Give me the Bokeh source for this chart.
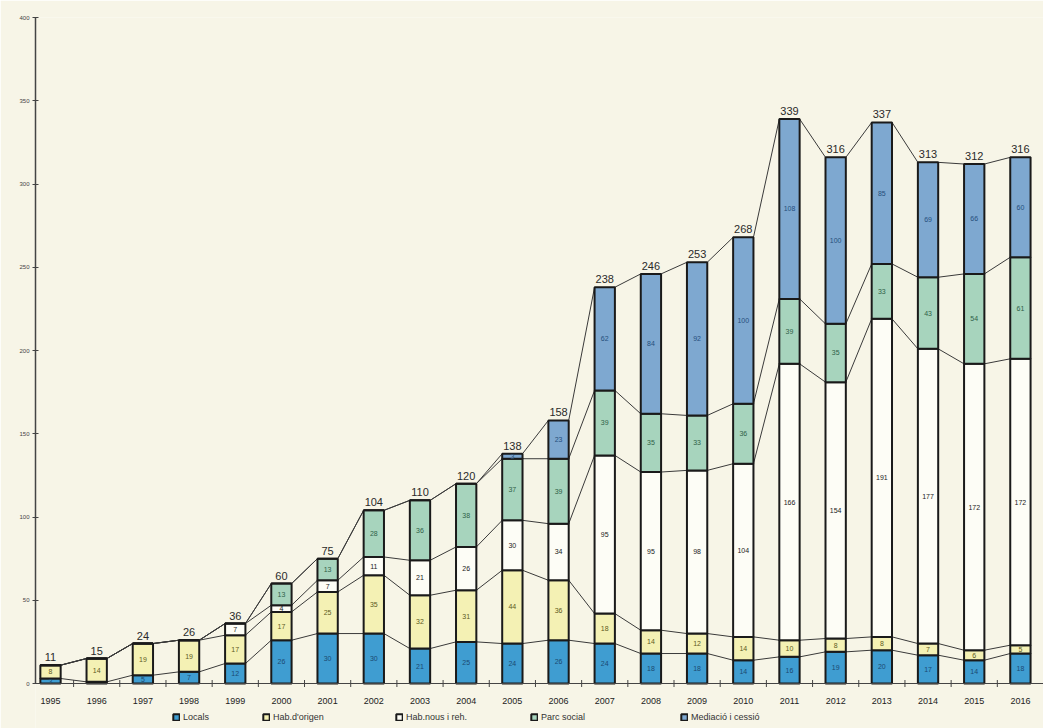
import math
from bokeh.plotting import figure
from bokeh.models import Range1d, FixedTicker, Legend, LegendItem, ColumnDataSource, Span
from bokeh.core.properties import value
from bokeh.embed import file_html
from bokeh.resources import INLINE

years = list(range(1995, 2017))
year_labels = [str(y) for y in years]
locals_ = [3, 1, 5, 7, 12, 26, 30, 30, 21, 25, 24, 26, 24, 18, 18, 14, 16, 19, 20, 17, 14, 18]
origen = [8, 14, 19, 19, 17, 17, 25, 35, 32, 31, 44, 36, 18, 14, 12, 14, 10, 8, 8, 7, 6, 5]
nous = [0, 0, 0, 0, 7, 4, 7, 11, 21, 26, 30, 34, 95, 95, 98, 104, 166, 154, 191, 177, 172, 172]
parc = [0, 0, 0, 0, 0, 13, 13, 28, 36, 38, 37, 39, 39, 35, 33, 36, 39, 35, 33, 43, 54, 61]
mediacio = [0, 0, 0, 0, 0, 0, 0, 0, 0, 0, 3, 23, 62, 84, 92, 100, 108, 100, 85, 69, 66, 60]
series_names = ["Locals", "Hab.d'origen", "Hab.nous i reh.", "Parc social", "Mediació i cessió"]
y_ticks = [0, 50, 100, 150, 200, 250, 300, 350, 400]

series = [locals_, origen, nous, parc, mediacio]
colors = ["#3f9dd1", "#f4f1b4", "#fdfdf6", "#a7d4bd", "#7ea8d0"]
text_colors = ["#1c4a72", "#5e5b22", "#222222", "#2f6148", "#264f7c"]
bg = "#f7f5e7"
FONT = "Liberation Sans"
BAR_W = 0.44

# frame runs to the bottom of the page; value 0 sits 45 px above it
p = figure(width=1043, height=728, x_range=Range1d(1994.675, 2016.5),
           y_range=Range1d(-45 * 400 / 666, 400),
           output_backend="svg", toolbar_location=None, x_axis_location=None,
           background_fill_color=bg, border_fill_color=bg,
           min_border_left=35, min_border_top=17, min_border_bottom=0, min_border_right=0)
p.xgrid.grid_line_color = None
p.ygrid.grid_line_color = None
p.outline_line_color = None

keys = ["s0", "s1", "s2", "s3", "s4"]
data = {"x": years}
for k, s in zip(keys, series):
    data[k] = s
src = ColumnDataSource(data)

# series lines (between adjacent bars, at each cumulative top)
cum = []
run = [0] * len(years)
for s in series:
    run = [a + b for a, b in zip(run, s)]
    cum.append(list(run))
x0s, y0s, x1s, y1s = [], [], [], []
for c in cum:
    for i in range(len(years) - 1):
        x0s.append(years[i] + BAR_W / 2)
        y0s.append(c[i])
        x1s.append(years[i + 1] - BAR_W / 2)
        y1s.append(c[i + 1])
p.segment(x0=x0s, y0=y0s, x1=x1s, y1=y1s, line_color="#3a3a3a", line_width=1)

# category axis line at 0 with boundary ticks
p.add_layout(Span(location=0, dimension="width", line_color="#444444", line_width=1.2))
bounds_x = [years[0] - 0.5] + [y + 0.5 for y in years[:-1]]
p.scatter(x=bounds_x, y=[0] * len(bounds_x), marker="dash", angle=math.pi / 2, size=7,
          line_color="#444444", line_width=1)

renderers = p.vbar_stack(keys, x="x", width=BAR_W, source=src, color=colors,
                         line_color="#1a1a1a", line_width=2)

# segment labels
lx, ly, lt, lc = [], [], [], []
base = [0] * len(years)
for si, s in enumerate(series):
    for i, v in enumerate(s):
        if v >= 3:
            lx.append(years[i])
            ly.append(base[i] + v / 2)
            lt.append(str(v))
            lc.append(text_colors[si])
    base = [a + b for a, b in zip(base, s)]
p.text(x=lx, y=ly, text=lt, text_color=lc, text_font=value(FONT), text_font_size="7px",
       text_align="center", text_baseline="middle")

# totals
totals = cum[-1]
p.text(x=years, y=totals, text=[str(t) for t in totals], text_font=value(FONT),
       text_font_size="11px", text_color="#2a2a2a", text_align="center",
       text_baseline="bottom", y_offset=-4)

# year labels
p.text(x=years, y=[0] * len(years), text=year_labels, text_font=value(FONT),
       text_font_size="9px", text_color="#222222", text_align="center",
       text_baseline="middle", y_offset=17)

p.yaxis.ticker = FixedTicker(ticks=y_ticks)
p.yaxis.bounds = (0, 400)
p.yaxis.major_tick_in = 3
p.yaxis.major_tick_out = 3
p.yaxis.minor_tick_line_color = None
p.yaxis.axis_line_color = "#444444"
p.yaxis.axis_line_width = 1.5
p.yaxis.major_tick_line_color = "#444444"
p.yaxis.major_label_text_font = FONT
p.yaxis.major_label_text_font_size = "6px"
p.yaxis.major_label_text_color = "#444444"
p.yaxis.major_label_standoff = 3

# legends, one per entry, under the year labels
legend_x = [137, 227, 360, 495, 645]
for name, r, lx_ in zip(series_names, renderers, legend_x):
    lg = Legend(items=[LegendItem(label=name, renderers=[r])], location=(lx_, 6),
                background_fill_alpha=0, border_line_color=None, padding=0, margin=0,
                glyph_width=8, glyph_height=8, label_height=9, label_standoff=3,
                label_text_font=FONT, label_text_font_size="9px", label_text_color="#333333")
    p.add_layout(lg, "center")

open("out.html", "w").write(file_html(p, INLINE))
